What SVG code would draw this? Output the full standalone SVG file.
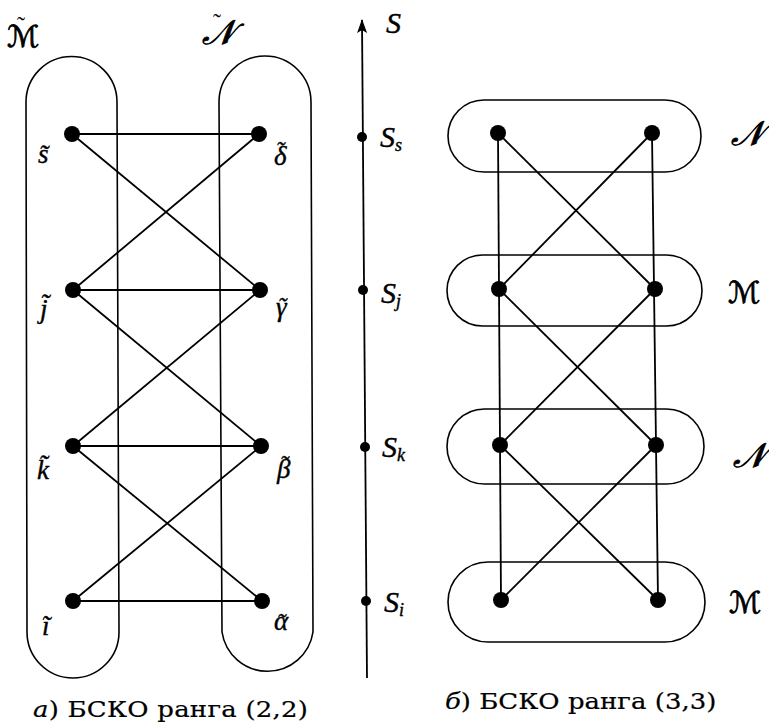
<svg xmlns="http://www.w3.org/2000/svg" width="769" height="728" viewBox="0 0 769 728">
<style>
.cap{fill:none;stroke:#000;stroke-width:1.6}
.edge{stroke:#000;stroke-width:1.8;fill:none}
.dot{fill:#000}
.m{font-family:"Liberation Serif","DejaVu Serif",serif;font-style:italic;font-size:27px;fill:#000;stroke:#000;stroke-width:0.4}
.S{font-size:30px}
.sub{font-size:18px}
.tl{font-size:24px}
.cal{font-family:"DejaVu Sans","Noto Sans","DejaVu Serif",serif;font-style:italic;font-size:34px;fill:#000;stroke:#000;stroke-width:0.8}
.calm{font-family:"DejaVu Serif","DejaVu Sans",serif;font-style:italic;font-size:30px;fill:#000;stroke:#000;stroke-width:0.8}
.calt{font-family:"Liberation Serif",serif;font-style:normal;stroke:none;font-size:24px}
.capt{font-family:"DejaVu Serif","Liberation Serif",serif;font-size:22px;fill:#000;stroke:#000;stroke-width:0.2}
</style>
<defs>
<marker id="arr" markerWidth="14" markerHeight="10" refX="13" refY="5" orient="auto" markerUnits="userSpaceOnUse" viewBox="0 0 14 10">
<path d="M0,0 L14,5 L0,10 L3,5 Z" fill="#000"/>
</marker>
</defs>
<rect width="769" height="728" fill="#fff"/>

<g id="group-M-tilde">
<path class="cap" d="M26,102 A45.5,45.5 0 0 1 117,102 L119,632 A46,46 0 0 1 27,632 Z"/>
<text class="calm" x="7" y="47">ℳ<tspan class="calt" x="17" y="33">˜</tspan></text>
</g>
<g id="group-N-tilde">
<path class="cap" d="M219,102 A46,46 0 0 1 311,102 L313,632 A46,46 0 0 1 222,632 Z"/>
<text class="cal" x="202" y="44">𝒩<tspan class="calt" x="213" y="30">˜</tspan></text>
</g>

<g id="connectors">
<line class="edge" x1="72" y1="134" x2="259" y2="134"/>
<line class="edge" x1="72" y1="134" x2="260" y2="290"/>
<line class="edge" x1="259" y1="134" x2="73" y2="290"/>
<line class="edge" x1="73" y1="290" x2="260" y2="290"/>
<line class="edge" x1="73" y1="290" x2="261" y2="446"/>
<line class="edge" x1="260" y1="290" x2="73" y2="446"/>
<line class="edge" x1="73" y1="446" x2="261" y2="446"/>
<line class="edge" x1="73" y1="446" x2="262" y2="601"/>
<line class="edge" x1="261" y1="446" x2="73" y2="601"/>
<line class="edge" x1="73" y1="601" x2="262" y2="601"/>

<line class="edge" x1="498" y1="133" x2="501" y2="600"/>
<line class="edge" x1="652" y1="133" x2="658" y2="600"/>
<line class="edge" x1="498" y1="133" x2="655" y2="289"/>
<line class="edge" x1="652" y1="133" x2="499" y2="289"/>
<line class="edge" x1="499" y1="289" x2="656" y2="445"/>
<line class="edge" x1="655" y1="289" x2="500" y2="445"/>
<line class="edge" x1="500" y1="445" x2="658" y2="600"/>
<line class="edge" x1="656" y1="445" x2="501" y2="600"/>
</g>

<g id="node-s"><circle class="dot" cx="72" cy="134" r="8"/><text class="m" x="38" y="163">s̃</text></g>
<g id="node-delta"><circle class="dot" cx="259" cy="134" r="8"/><text class="m" x="274" y="165">δ<tspan class="tl" x="276" y="158">˜</tspan></text></g>
<g id="node-j"><circle class="dot" cx="73" cy="290" r="8"/><text class="m" x="40" y="318">j̃</text></g>
<g id="node-gamma"><circle class="dot" cx="260" cy="290" r="8"/><text class="m" x="276" y="316">γ<tspan class="tl" x="278" y="314">˜</tspan></text></g>
<g id="node-k"><circle class="dot" cx="73" cy="446" r="8"/><text class="m" x="37" y="479">k̃</text></g>
<g id="node-beta"><circle class="dot" cx="261" cy="446" r="8"/><text class="m" x="277" y="478">β<tspan class="tl" x="280" y="472">˜</tspan></text></g>
<g id="node-i"><circle class="dot" cx="73" cy="601" r="8"/><text class="m" x="42" y="635">ĩ</text></g>
<g id="node-alpha"><circle class="dot" cx="262" cy="601" r="8"/><text class="m" x="274" y="630">α<tspan class="tl" x="277" y="630">˜</tspan></text></g>

<g id="axis-S">
<line class="edge" x1="367" y1="678" x2="362" y2="20" marker-end="url(#arr)"/>
<text class="m S" x="386" y="33">S</text>
</g>
<g id="point-Ss"><circle class="dot" cx="362" cy="137" r="5"/><text class="m S" x="380" y="147">S<tspan class="sub" dy="4">s</tspan></text></g>
<g id="point-Sj"><circle class="dot" cx="363" cy="290" r="5"/><text class="m S" x="381" y="303">S<tspan class="sub" dy="4">j</tspan></text></g>
<g id="point-Sk"><circle class="dot" cx="365" cy="447" r="5"/><text class="m S" x="382" y="457">S<tspan class="sub" dy="4">k</tspan></text></g>
<g id="point-Si"><circle class="dot" cx="366" cy="601" r="5"/><text class="m S" x="384" y="612">S<tspan class="sub" dy="4">i</tspan></text></g>

<g id="layer-N1">
<rect class="cap" x="448" y="100" width="253" height="72" rx="36"/>
<circle class="dot" cx="498" cy="133" r="8"/><circle class="dot" cx="652" cy="133" r="8"/>
<text class="cal" x="731" y="145">𝒩</text>
</g>
<g id="layer-M1">
<rect class="cap" x="447" y="255" width="255" height="71" rx="35.5"/>
<circle class="dot" cx="499" cy="289" r="8"/><circle class="dot" cx="655" cy="289" r="8"/>
<text class="calm" x="728" y="303">ℳ</text>
</g>
<g id="layer-N2">
<rect class="cap" x="447" y="409" width="257" height="75" rx="37.5"/>
<circle class="dot" cx="500" cy="445" r="8"/><circle class="dot" cx="656" cy="445" r="8"/>
<text class="cal" x="733" y="467">𝒩</text>
</g>
<g id="layer-M2">
<rect class="cap" x="448" y="562" width="257" height="80" rx="40"/>
<circle class="dot" cx="501" cy="600" r="8"/><circle class="dot" cx="658" cy="600" r="8"/>
<text class="calm" x="729" y="613">ℳ</text>
</g>

<text class="capt" transform="translate(33,717) scale(1.18,1)" x="0" y="0" textLength="233" lengthAdjust="spacing"><tspan font-style="italic">а</tspan>) БСКО ранга (2,2)</text>
<text class="capt" transform="translate(445,709) scale(1.18,1)" x="0" y="0" textLength="230" lengthAdjust="spacing"><tspan font-style="italic">б</tspan>) БСКО ранга (3,3)</text>
</svg>
